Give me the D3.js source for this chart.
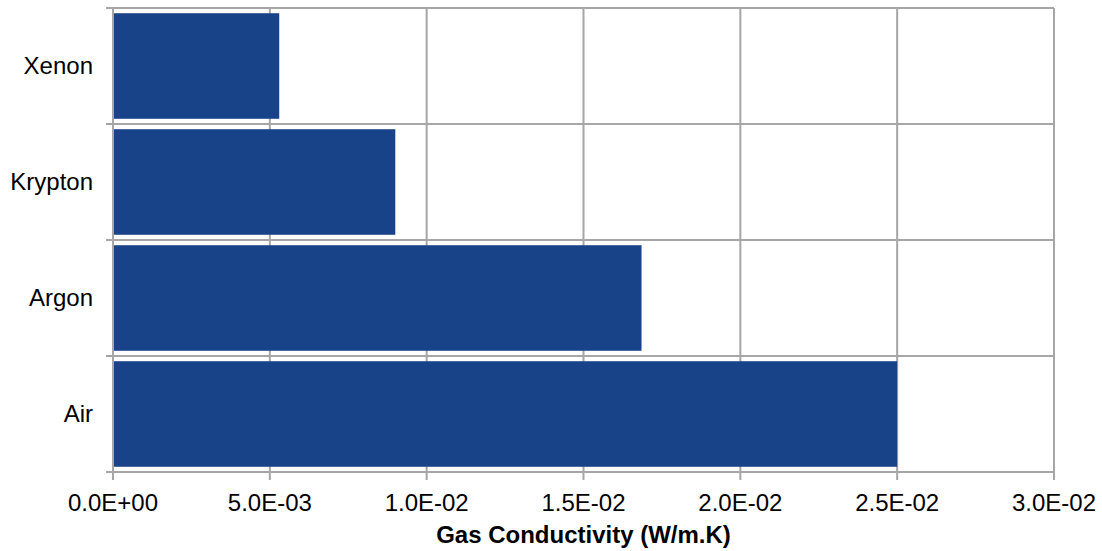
<!DOCTYPE html>
<html>
<head>
<meta charset="utf-8">
<script src="https://cdn.jsdelivr.net/npm/d3@7"></script>
<style>
  html, body { margin: 0; padding: 0; background: #fff; }
  svg { display: block; font-family: "Liberation Sans", Arial, sans-serif; }
</style>
</head>
<body>
<svg id="chart" width="1102" height="551"></svg>
<script>
const categories = ["Air", "Argon", "Krypton", "Xenon"];
const values = [0.0250, 0.01685, 0.0090, 0.0053];
const xTicks = [0, 0.005, 0.010, 0.015, 0.020, 0.025, 0.030];
const xTickLabels = ["0.0E+00", "5.0E-03", "1.0E-02", "1.5E-02", "2.0E-02", "2.5E-02", "3.0E-02"];
const xTitle = "Gas Conductivity (W/m.K)";

const svg = d3.select("#chart");
const mLeft = 113, mRight = 1054, mTop = 8, mBottom = 472;
const gridColor = "#a6a6a6";
const barColor = "#194389";

const x = d3.scaleLinear().domain([0, 0.03]).range([mLeft, mRight]);
const y = d3.scaleBand().domain(categories).range([mBottom, mTop])
  .paddingInner(0.09).paddingOuter(0.045);

// vertical grid lines + ticks
svg.append("g").selectAll("line").data(xTicks).join("line")
  .attr("x1", d => x(d)).attr("x2", d => x(d))
  .attr("y1", mTop).attr("y2", mBottom + 8)
  .attr("stroke", gridColor).attr("stroke-width", 2);

// horizontal band boundary lines + ticks
const step = y.step();
const bounds = d3.range(categories.length + 1).map(i => mTop + i * step);
svg.append("g").selectAll("line").data(bounds).join("line")
  .attr("x1", mLeft - 7).attr("x2", mRight)
  .attr("y1", d => d).attr("y2", d => d)
  .attr("stroke", gridColor).attr("stroke-width", 2);

// bars
svg.append("g").selectAll("rect").data(categories).join("rect")
  .attr("x", x(0) + 1)
  .attr("y", d => y(d))
  .attr("width", (d, i) => x(values[i]) - x(0) - 1)
  .attr("height", y.bandwidth())
  .attr("fill", barColor);

// x tick labels
svg.append("g").selectAll("text").data(xTicks).join("text")
  .attr("x", d => x(d)).attr("y", 511)
  .attr("text-anchor", "middle")
  .attr("font-size", 24).attr("fill", "#000")
  .text((d, i) => xTickLabels[i]);

// y labels
svg.append("g").selectAll("text").data(categories).join("text")
  .attr("x", 93).attr("y", d => y(d) + y.bandwidth() / 2)
  .attr("dy", "0.35em")
  .attr("text-anchor", "end")
  .attr("font-size", 24).attr("fill", "#000")
  .text(d => d);

// axis title
svg.append("text")
  .attr("x", (mLeft + mRight) / 2).attr("y", 543)
  .attr("text-anchor", "middle")
  .attr("font-size", 24).attr("font-weight", "bold").attr("fill", "#000")
  .text(xTitle);
</script>
</body>
</html>
